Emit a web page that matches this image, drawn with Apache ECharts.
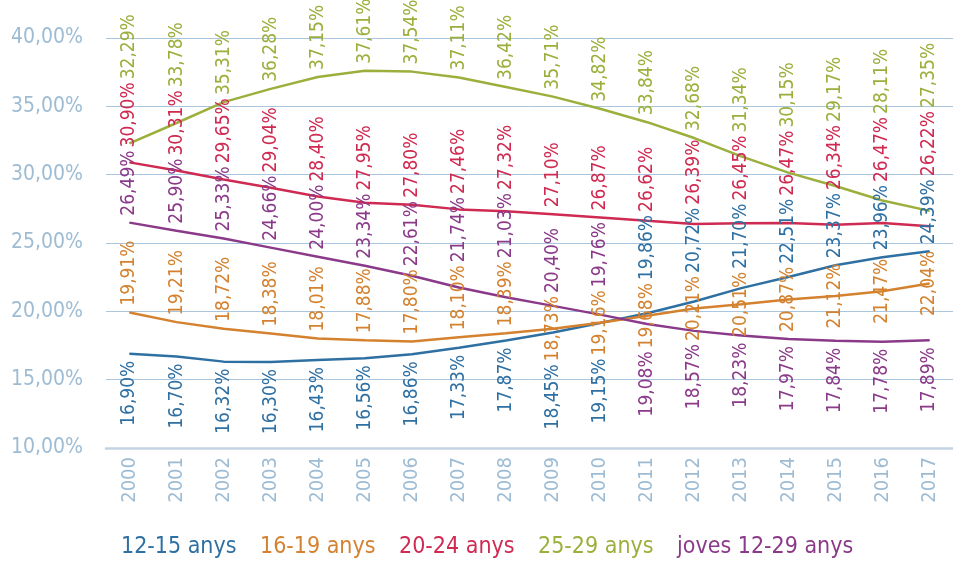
<!DOCTYPE html>
<html>
<head>
<meta charset="utf-8">
<script src="https://cdn.jsdelivr.net/npm/echarts@6/dist/echarts.min.js"></script>
<style>
  html, body { margin: 0; padding: 0; background: #fff; }
  #chart { width: 953px; height: 563px; }
</style>
</head>
<body>
<div id="chart"></div>
<script>
const years = ['2000', '2001', '2002', '2003', '2004', '2005', '2006', '2007', '2008', '2009',
  '2010', '2011', '2012', '2013', '2014', '2015', '2016', '2017']

const names = ['12-15 anys', '16-19 anys', '20-24 anys', '25-29 anys', 'joves 12-29 anys']

const age12to15 = [16.90, 16.70, 16.32, 16.30, 16.43, 16.56, 16.86, 17.33, 17.87, 18.45,
  19.15, 19.86, 20.72, 21.70, 22.51, 23.37, 23.96, 24.39]
const age16to19 = [19.91, 19.21, 18.72, 18.38, 18.01, 17.88, 17.80, 18.10, 18.39, 18.73,
  19.16, 19.68, 20.21, 20.51, 20.87, 21.12, 21.47, 22.04]
const age20to24 = [30.90, 30.31, 29.65, 29.04, 28.40, 27.95, 27.80, 27.46, 27.32, 27.10,
  26.87, 26.62, 26.39, 26.45, 26.47, 26.34, 26.47, 26.22]
const age25to29 = [32.29, 33.78, 35.31, 36.28, 37.15, 37.61, 37.54, 37.11, 36.42, 35.71,
  34.82, 33.84, 32.68, 31.34, 30.15, 29.17, 28.11, 27.35]
const age12to29 = [26.49, 25.90, 25.33, 24.66, 24.00, 23.34, 22.61, 21.74, 21.03, 20.40,
  19.76, 19.08, 18.57, 18.23, 17.97, 17.84, 17.78, 17.89]

const yTicks = [10, 15, 20, 25, 30, 35, 40]

const seriesValues = [age12to15, age16to19, age20to24, age25to29, age12to29]
const colors = ['#2f70a3', '#d4822f', '#cf2a51', '#9bb03c', '#8b3a8a']

const narrow = "'DejaVu Sans Condensed', 'Liberation Sans', sans-serif"
const axisColor = '#9dbcd4'
const labelSize = 19

const fmt = v => v.toFixed(2).replace('.', ',') + '%'

const chart = echarts.init(document.getElementById('chart'))

const baseOption = () => ({
  animation: false,
  grid: { left: 106, top: 38, width: 858, height: 410 },
  legend: {
    left: 111,
    top: 531,
    itemWidth: 0,
    itemHeight: 0,
    itemGap: 18.5,
    icon: 'rect',
    data: names.map((n, k) => ({
      name: n,
      textStyle: { color: colors[k], fontSize: 23, fontFamily: narrow }
    }))
  },
  xAxis: {
    type: 'category',
    data: years,
    boundaryGap: true,
    axisTick: { show: false },
    axisLine: { lineStyle: { color: '#c3d3e2', width: 2.5 } },
    axisLabel: {
      rotate: 90,
      color: axisColor,
      fontSize: 20,
      fontFamily: narrow,
      margin: 9
    }
  },
  yAxis: {
    type: 'value',
    min: yTicks[0],
    max: yTicks[yTicks.length - 1],
    interval: 5,
    axisLine: { show: false },
    axisTick: { show: false },
    splitLine: { lineStyle: { color: '#a9c6de', width: 1 } },
    axisLabel: {
      color: axisColor,
      fontSize: 21,
      fontFamily: narrow,
      margin: 23,
      formatter: v => fmt(v)
    }
  },
  series: names.map((n, k) => ({
    name: n,
    type: 'line',
    data: seriesValues[k],
    symbol: 'circle',
    symbolSize: 1,
    showAllSymbol: true,
    itemStyle: { color: colors[k] },
    lineStyle: { color: colors[k], width: 2.5 },
    label: {
      show: true,
      rotate: 90,
      color: colors[k],
      fontSize: labelSize,
      fontFamily: narrow,
      formatter: p => fmt(p.value)
    }
  }))
})

chart.setOption(baseOption())

// text length of a rotated label, measured with the same font
const ctx = document.createElement('canvas').getContext('2d')
ctx.font = labelSize + 'px ' + narrow
const textLen = s => ctx.measureText(s).width

// which side of its point each label sits on
const sideOf = (k, i) => {
  const col = seriesValues.map(s => s[i])
  const lo = Math.min(...col)
  const v = col[k]
  if (v === lo) return 'below'
  if (k === 1) {
    const minIdx = col.indexOf(lo)
    if (minIdx === 4 || v - lo < 0.5) return 'center'
  }
  return 'above'
}

const gap = 7
const sep = 3
const labelOpts = seriesValues.map(s => s.map(() => null))

years.forEach((y, i) => {
  const items = seriesValues.map((s, k) => ({
    k,
    py: chart.convertToPixel({ xAxisIndex: 0, yAxisIndex: 0 }, [i, s[i]])[1],
    len: textLen(fmt(s[i])),
    side: sideOf(k, i)
  }))
  let prevTop = Infinity
  let centerBottom = -Infinity
  items.filter(d => d.side !== 'below').sort((a, b) => b.py - a.py).forEach(d => {
    const natural = d.side === 'center' ? d.py + d.len / 2 : d.py - gap
    const bottom = Math.min(natural, prevTop - sep)
    prevTop = bottom - d.len
    if (d.side === 'center') centerBottom = Math.max(centerBottom, bottom)
    labelOpts[d.k][i] = { position: 'top', distance: d.py - bottom - 0.5, align: 'left', verticalAlign: 'middle' }
  })
  items.filter(d => d.side === 'below').forEach(d => {
    const top = Math.max(d.py + gap, centerBottom + sep)
    labelOpts[d.k][i] = { position: 'bottom', distance: top - d.py - 0.5, align: 'right', verticalAlign: 'middle' }
  })
})

chart.setOption({
  series: names.map((n, k) => ({
    name: n,
    data: seriesValues[k].map((v, i) => ({ value: v, label: labelOpts[k][i] }))
  }))
})

window.addEventListener('resize', () => chart.resize())
</script>
</body>
</html>
